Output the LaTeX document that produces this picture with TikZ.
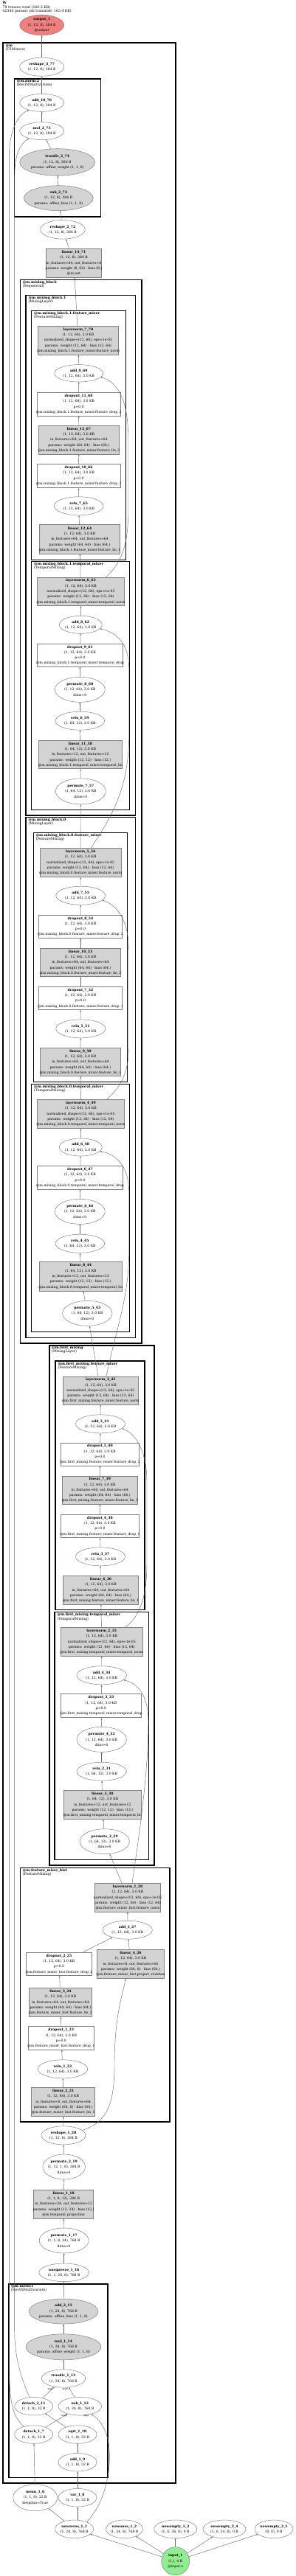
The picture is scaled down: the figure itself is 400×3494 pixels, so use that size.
\documentclass[tikz,border=0pt]{standalone}
\usepackage{fontspec}
\setmainfont{DejaVu Serif}
\usetikzlibrary{shapes.geometric,arrows.meta}
\definecolor{outc}{RGB}{240,128,128}
\definecolor{inc}{RGB}{144,238,144}
\definecolor{gf}{RGB}{211,211,211}
\definecolor{bd}{RGB}{128,128,128}
\definecolor{ec}{RGB}{105,105,105}
\newcommand\nfs{\fontsize{4.6}{7.3}\selectfont}
\newcommand\cfs{\fontsize{4.7}{5.2}\selectfont}
\tikzset{
 lbs/.style={align=center,font=\nfs,inner sep=0pt,outer sep=0pt},
 lb/.style={label={[lbs]center:{#1}}},
 el/.style={ellipse,draw=bd,fill=white,line width=0.5pt,inner sep=0pt},
 bx/.style={rectangle,draw=bd,fill=white,line width=0.5pt,inner sep=0pt},
 gr/.style={fill=gf},
 ed/.style={draw=ec,line width=0.45pt,-{Stealth[length=2.6pt,width=2pt]}},
 cl/.style={draw=black,line width=#1},
 cl/.default=1pt,
 clab/.style={anchor=north west,align=left,font=\cfs,inner sep=0pt},
 argl/.style={font=\fontsize{3.2}{3.5}\selectfont,inner sep=0pt},
}
\newcommand\En[7][]{\node[el,#1,minimum width=#5,minimum height=#6,lb={#7}] (#2) at (#3,#4) {};}
\newcommand\Bx[7][]{\node[bx,#1,minimum width=#5,minimum height=#6,lb={#7}] (#2) at (#3,#4) {};}
\begin{document}
\catcode`\_=12
\begin{tikzpicture}[x=1pt,y=-1pt]
\useasboundingbox (0,0) rectangle (400,3494);
\fill[white] (0,0) rectangle (400,3494);
% title
\node[clab] (title) at (3.5,2.2) {\textbf{W}\\79 tensors total (160.3 KB)\\42344 params (all trainable, 165.4 KB)};
% clusters
\draw[cl=2pt] (4,58.3) rectangle (237.7,3367.7);
\node[clab] (c_m) at (7.3,59.6) {\textbf{@m}\\(TSMixerx)};
\draw[cl=1.6pt] (19.3,106.7) rectangle (136.3,293.7);
\node[clab] (c_norm2) at (22.6,108) {\textbf{@m.norm:2}\\(RevINMultivariate)};
\draw[cl=1.6pt] (27.3,379.3) rectangle (191.7,1822);
\node[clab] (c_mb) at (30.6,380.6) {\textbf{@m.mixing_block}\\(Sequential)};
\draw[cl=1.3pt] (35,400.3) rectangle (183.3,1106);
\node[clab] (c_mb1) at (38.3,401.6) {\textbf{@m.mixing_block.1}\\(MixingLayer)};
\draw[cl=1pt] (42.7,421.3) rectangle (170.7,759);
\node[clab] (c_mb1f) at (46,422.6) {\textbf{@m.mixing_block.1.feature_mixer}\\(FeatureMixing)};
\draw[cl=1pt] (42.7,761.7) rectangle (175.7,1098.3);
\node[clab] (c_mb1t) at (46,763) {\textbf{@m.mixing_block.1.temporal_mixer}\\(TemporalMixing)};
\draw[cl=1.3pt] (35,1108.3) rectangle (183.3,1814.3);
\node[clab] (c_mb0) at (38.3,1109.6) {\textbf{@m.mixing_block.0}\\(MixingLayer)};
\draw[cl=1pt] (45,1129.3) rectangle (172.7,1467.3);
\node[clab] (c_mb0f) at (48.3,1130.6) {\textbf{@m.mixing_block.0.feature_mixer}\\(FeatureMixing)};
\draw[cl=1pt] (42.7,1470.7) rectangle (175.7,1806.3);
\node[clab] (c_mb0t) at (46,1472) {\textbf{@m.mixing_block.0.temporal_mixer}\\(TemporalMixing)};
\draw[cl=1.6pt] (66.7,1824.7) rectangle (208.7,2530);
\node[clab] (c_fm) at (70,1826) {\textbf{@m.first_mixing}\\(MixingLayer)};
\draw[cl=1.3pt] (75,1846) rectangle (196,2183.3);
\node[clab] (c_fmf) at (78.3,1847.3) {\textbf{@m.first_mixing.feature_mixer}\\(FeatureMixing)};
\draw[cl=1.3pt] (74,2186.7) rectangle (201.3,2522.7);
\node[clab] (c_fmt) at (77.3,2188) {\textbf{@m.first_mixing.temporal_mixer}\\(TemporalMixing)};
\draw[cl=1.6pt] (27.3,2533.3) rectangle (230,2878);
\node[clab] (c_fmh) at (30.6,2534.6) {\textbf{@m.feature_mixer_hist}\\(FeatureMixing)};
\draw[cl=1.6pt] (11.7,3097.7) rectangle (145.7,3360.3);
\node[clab] (c_norm1) at (15,3099) {\textbf{@m.norm:1}\\(RevINMultivariate)};
% nodes top
\En[fill=outc]{output_1}{56.7}{34}{60}{27.6}{\textbf{output_1}\\(1, 12, 8), 384 B\\@output}
\En{reshape_3_77}{56.7}{90.7}{60}{25}{\textbf{reshape_3_77}\\(1, 12, 8), 384 B}
\En{add_10_76}{56.7}{139.3}{60}{24}{\textbf{add_10_76}\\(1, 12, 8), 384 B}
\En{mul_2_75}{56.7}{177.7}{60}{24}{\textbf{mul_2_75}\\(1, 12, 8), 384 B}
\En[gr]{truediv_2_74}{77.7}{220}{102}{36.6}{\textbf{truediv_2_74}\\(1, 12, 8), 384 B\\params: affine_weight (1, 1, 8)}
\En[gr]{sub_2_73}{79.3}{268.7}{94}{34}{\textbf{sub_2_73}\\(1, 12, 8), 384 B\\params: affine_bias (1, 1, 8)}
\En{reshape_2_72}{85}{311.3}{60.6}{25.6}{\textbf{reshape_2_72}\\(1, 12, 8), 384 B}
\Bx[gr]{linear_14_71}{100}{356.65}{75.4}{39.3}{\textbf{linear_14_71}\\(1, 12, 8), 384 B\\in_features=64, out_features=8\\params: weight (8, 64) · bias (8,)\\@m.out}
% mixing_block.1 feature
\Bx[gr]{layernorm_7_70}{106}{461.65}{109.4}{39.3}{\textbf{layernorm_7_70}\\(1, 12, 64), 3.0 KB\\normalized_shape=(12, 64), eps=1e-05\\params: weight (12, 64) · bias (12, 64)\\@m.mixing_block.1.feature_mixer.feature_norm}
\En{add_9_69}{106.7}{506.3}{66}{23.4}{\textbf{add_9_69}\\(1, 12, 64), 3.0 KB}
\Bx{dropout_11_68}{106.65}{548.15}{112.7}{32.3}{\textbf{dropout_11_68}\\(1, 12, 64), 3.0 KB\\p=0.0\\@m.mixing_block.1.feature_mixer.feature_drop_2}
\Bx[gr]{linear_13_67}{106.8}{596.65}{109}{39.3}{\textbf{linear_13_67}\\(1, 12, 64), 3.0 KB\\in_features=64, out_features=64\\params: weight (64, 64) · bias (64,)\\@m.mixing_block.1.feature_mixer.feature_lin_2}
\Bx{dropout_10_66}{106.65}{645.35}{112.7}{32.7}{\textbf{dropout_10_66}\\(1, 12, 64), 3.0 KB\\p=0.0\\@m.mixing_block.1.feature_mixer.feature_drop_1}
\En{relu_7_65}{106.7}{686.3}{66.6}{25}{\textbf{relu_7_65}\\(1, 12, 64), 3.0 KB}
\Bx[gr]{linear_12_64}{108}{731.5}{109.4}{39.6}{\textbf{linear_12_64}\\(1, 12, 64), 3.0 KB\\in_features=64, out_features=64\\params: weight (64, 64) · bias (64,)\\@m.mixing_block.1.feature_mixer.feature_lin_1}
% mixing_block.1 temporal
\Bx[gr]{layernorm_6_63}{109.5}{802.35}{118.4}{38.7}{\textbf{layernorm_6_63}\\(1, 12, 64), 3.0 KB\\normalized_shape=(12, 64), eps=1e-05\\params: weight (12, 64) · bias (12, 64)\\@m.mixing_block.1.temporal_mixer.temporal_norm}
\En{add_8_62}{109.3}{847.3}{58}{24}{\textbf{add_8_62}\\(1, 12, 64), 3.0 KB}
\Bx{dropout_9_61}{108.5}{888.8}{116.4}{31}{\textbf{dropout_9_61}\\(1, 12, 64), 3.0 KB\\p=0.0\\@m.mixing_block.1.temporal_mixer.temporal_drop}
\En{permute_8_60}{108.3}{935.3}{68}{34}{\textbf{permute_8_60}\\(1, 12, 64), 3.0 KB\\dims=0}
\En{relu_6_59}{108.3}{977.7}{66.6}{25}{\textbf{relu_6_59}\\(1, 64, 12), 3.0 KB}
\Bx[gr]{linear_11_58}{108.8}{1023.5}{113}{38.4}{\textbf{linear_11_58}\\(1, 64, 12), 3.0 KB\\in_features=12, out_features=12\\params: weight (12, 12) · bias (12,)\\@m.mixing_block.1.temporal_mixer.temporal_lin}
\En{permute_7_57}{109.3}{1073.3}{68}{35}{\textbf{permute_7_57}\\(1, 64, 12), 3.0 KB\\dims=0}
% mixing_block.0 feature
\Bx[gr]{layernorm_5_56}{109.15}{1170}{109.7}{39.4}{\textbf{layernorm_5_56}\\(1, 12, 64), 3.0 KB\\normalized_shape=(12, 64), eps=1e-05\\params: weight (12, 64) · bias (12, 64)\\@m.mixing_block.0.feature_mixer.feature_norm}
\En{add_7_55}{109.3}{1214.7}{67}{25}{\textbf{add_7_55}\\(1, 12, 64), 3.0 KB}
\Bx{dropout_8_54}{109}{1256.8}{113.4}{31}{\textbf{dropout_8_54}\\(1, 12, 64), 3.0 KB\\p=0.0\\@m.mixing_block.0.feature_mixer.feature_drop_2}
\Bx[gr]{linear_10_53}{109}{1305.5}{109.4}{38.4}{\textbf{linear_10_53}\\(1, 12, 64), 3.0 KB\\in_features=64, out_features=64\\params: weight (64, 64) · bias (64,)\\@m.mixing_block.0.feature_mixer.feature_lin_2}
\Bx{dropout_7_52}{109}{1353.85}{113.4}{31.7}{\textbf{dropout_7_52}\\(1, 12, 64), 3.0 KB\\p=0.0\\@m.mixing_block.0.feature_mixer.feature_drop_1}
\En{relu_5_51}{109.3}{1395.3}{67}{25}{\textbf{relu_5_51}\\(1, 12, 64), 3.0 KB}
\Bx[gr]{linear_9_50}{109}{1440.5}{109.4}{38.4}{\textbf{linear_9_50}\\(1, 12, 64), 3.0 KB\\in_features=64, out_features=64\\params: weight (64, 64) · bias (64,)\\@m.mixing_block.0.feature_mixer.feature_lin_1}
% mixing_block.0 temporal
\Bx[gr]{layernorm_4_49}{109.5}{1510.85}{118.4}{39.7}{\textbf{layernorm_4_49}\\(1, 12, 64), 3.0 KB\\normalized_shape=(12, 64), eps=1e-05\\params: weight (12, 64) · bias (12, 64)\\@m.mixing_block.0.temporal_mixer.temporal_norm}
\En{add_6_48}{109.3}{1556}{58}{24}{\textbf{add_6_48}\\(1, 12, 64), 3.0 KB}
\Bx{dropout_6_47}{108.5}{1597.15}{116.4}{32.3}{\textbf{dropout_6_47}\\(1, 12, 64), 3.0 KB\\p=0.0\\@m.mixing_block.0.temporal_mixer.temporal_drop}
\En{permute_6_46}{108.3}{1643.3}{68}{34}{\textbf{permute_6_46}\\(1, 12, 64), 3.0 KB\\dims=0}
\En{relu_4_45}{108.3}{1686.7}{66.6}{25}{\textbf{relu_4_45}\\(1, 64, 12), 3.0 KB}
\Bx[gr]{linear_8_44}{109.3}{1731.35}{112}{39.3}{\textbf{linear_8_44}\\(1, 64, 12), 3.0 KB\\in_features=12, out_features=12\\params: weight (12, 12) · bias (12,)\\@m.mixing_block.0.temporal_mixer.temporal_lin}
\En{permute_5_43}{118.3}{1781.3}{67.4}{34}{\textbf{permute_5_43}\\(1, 64, 12), 3.0 KB\\dims=0}
% first_mixing feature
\Bx[gr]{layernorm_3_42}{136.35}{1886.15}{102.7}{38.3}{\textbf{layernorm_3_42}\\(1, 12, 64), 3.0 KB\\normalized_shape=(12, 64), eps=1e-05\\params: weight (12, 64) · bias (12, 64)\\@m.first_mixing.feature_mixer.feature_norm}
\En{add_5_41}{136}{1931.3}{67}{25}{\textbf{add_5_41}\\(1, 12, 64), 3.0 KB}
\Bx{dropout_5_40}{135.5}{1972.5}{106.4}{31}{\textbf{dropout_5_40}\\(1, 12, 64), 3.0 KB\\p=0.0\\@m.first_mixing.feature_mixer.feature_drop_2}
\Bx[gr]{linear_7_39}{135.3}{2021.15}{102}{38.3}{\textbf{linear_7_39}\\(1, 12, 64), 3.0 KB\\in_features=64, out_features=64\\params: weight (64, 64) · bias (64,)\\@m.first_mixing.feature_mixer.feature_lin_2}
\Bx{dropout_4_38}{135.5}{2069.85}{106.4}{31.7}{\textbf{dropout_4_38}\\(1, 12, 64), 3.0 KB\\p=0.0\\@m.first_mixing.feature_mixer.feature_drop_1}
\En{relu_3_37}{136}{2111.3}{67}{25}{\textbf{relu_3_37}\\(1, 12, 64), 3.0 KB}
\Bx[gr]{linear_6_36}{136.5}{2156.8}{102.4}{39}{\textbf{linear_6_36}\\(1, 12, 64), 3.0 KB\\in_features=64, out_features=64\\params: weight (64, 64) · bias (64,)\\@m.first_mixing.feature_mixer.feature_lin_1}
% first_mixing temporal
\Bx[gr]{layernorm_2_35}{137.8}{2226.8}{111}{39}{\textbf{layernorm_2_35}\\(1, 12, 64), 3.0 KB\\normalized_shape=(12, 64), eps=1e-05\\params: weight (12, 64) · bias (12, 64)\\@m.first_mixing.temporal_mixer.temporal_norm}
\En{add_4_34}{137.7}{2272.3}{67.6}{25}{\textbf{add_4_34}\\(1, 12, 64), 3.0 KB}
\Bx{dropout_3_33}{137}{2313.5}{109.4}{32.4}{\textbf{dropout_3_33}\\(1, 12, 64), 3.0 KB\\p=0.0\\@m.first_mixing.temporal_mixer.temporal_drop}
\En{permute_4_32}{137.7}{2359.3}{67.4}{34}{\textbf{permute_4_32}\\(1, 12, 64), 3.0 KB\\dims=0}
\En{relu_2_31}{137.7}{2402.7}{67.4}{25}{\textbf{relu_2_31}\\(1, 64, 12), 3.0 KB}
\Bx[gr]{linear_5_30}{138.85}{2448}{105.7}{39.4}{\textbf{linear_5_30}\\(1, 64, 12), 3.0 KB\\in_features=12, out_features=12\\params: weight (12, 12) · bias (12,)\\@m.first_mixing.temporal_mixer.temporal_lin}
\En{permute_3_29}{141.7}{2497.7}{67.4}{34}{\textbf{permute_3_29}\\(1, 64, 12), 3.0 KB\\dims=0}
% feature_mixer_hist
\Bx[gr]{layernorm_1_28}{173}{2573.8}{89.4}{39}{\textbf{layernorm_1_28}\\(1, 12, 64), 3.0 KB\\normalized_shape=(12, 64), eps=1e-05\\params: weight (12, 64) · bias (12, 64)\\@m.feature_mixer_hist.feature_norm}
\En{add_3_27}{172.7}{2617.7}{67.4}{25}{\textbf{add_3_27}\\(1, 12, 64), 3.0 KB}
\Bx{dropout_2_25}{80}{2663.85}{89.4}{31.7}{\textbf{dropout_2_25}\\(1, 12, 64), 3.0 KB\\p=0.0\\@m.feature_mixer_hist.feature_drop_2}
\Bx[gr]{linear_4_26}{177}{2663.85}{91.4}{39.7}{\textbf{linear_4_26}\\(1, 12, 64), 3.0 KB\\in_features=8, out_features=64\\params: weight (64, 8) · bias (64,)\\@m.feature_mixer_hist.project_residual}
\Bx[gr]{linear_3_24}{82}{2715.8}{85.4}{39}{\textbf{linear_3_24}\\(1, 12, 64), 3.0 KB\\in_features=64, out_features=64\\params: weight (64, 64) · bias (64,)\\@m.feature_mixer_hist.feature_lin_2}
\Bx{dropout_1_23}{82.8}{2764.5}{89}{31.6}{\textbf{dropout_1_23}\\(1, 12, 64), 3.0 KB\\p=0.0\\@m.feature_mixer_hist.feature_drop_1}
\En{relu_1_22}{85}{2806.3}{67.4}{25}{\textbf{relu_1_22}\\(1, 12, 64), 3.0 KB}
\Bx[gr]{linear_2_21}{85.7}{2851}{86}{39.4}{\textbf{linear_2_21}\\(1, 12, 64), 3.0 KB\\in_features=8, out_features=64\\params: weight (64, 8) · bias (64,)\\@m.feature_mixer_hist.feature_lin_1}
% lower chain
\En{reshape_1_20}{86}{2896.3}{60}{25}{\textbf{reshape_1_20}\\(1, 12, 8), 384 B}
\En{permute_2_19}{86.7}{2939}{57.6}{34}{\textbf{permute_2_19}\\(1, 12, 1, 8), 384 B\\dims=0}
\Bx[gr]{linear_1_18}{86.2}{2989.5}{81}{39}{\textbf{linear_1_18}\\(1, 1, 8, 12), 384 B\\in_features=24, out_features=12\\params: weight (12, 24) · bias (12,)\\@m.temporal_projection}
\En{permute_1_17}{86.7}{3039}{67}{34}{\textbf{permute_1_17}\\(1, 1, 8, 24), 768 B\\dims=0}
\En{unsqueeze_1_16}{86.7}{3082.3}{67.6}{24.6}{\textbf{unsqueeze_1_16}\\(1, 1, 24, 8), 768 B}
% norm:1
\En[gr]{add_2_15}{86}{3135}{94}{34}{\textbf{add_2_15}\\(1, 24, 8), 768 B\\params: affine_bias (1, 1, 8)}
\En[gr]{mul_1_14}{86}{3183.3}{102}{35}{\textbf{mul_1_14}\\(1, 24, 8), 768 B\\params: affine_weight (1, 1, 8)}
\En{truediv_1_13}{86}{3226}{59.4}{24.4}{\textbf{truediv_1_13}\\(1, 24, 8), 768 B}
\En{detach_2_11}{45.7}{3263.7}{52}{24.6}{\textbf{detach_2_11}\\(1, 1, 8), 32 B}
\En{sub_1_12}{108.3}{3263.7}{58.6}{24.6}{\textbf{sub_1_12}\\(1, 24, 8), 768 B}
\En{detach_1_7}{45.7}{3302}{52}{24.6}{\textbf{detach_1_7}\\(1, 1, 8), 32 B}
\En{sqrt_1_10}{105}{3302}{52}{24.6}{\textbf{sqrt_1_10}\\(1, 1, 8), 32 B}
\En{add_1_9}{105}{3339.7}{52}{24.6}{\textbf{add_1_9}\\(1, 1, 8), 32 B}
% bottom
\En{mean_1_6}{47.7}{3387.7}{60}{36}{\textbf{mean_1_6}\\(1, 1, 8), 32 B\\keepdim=True}
\En{var_1_8}{105}{3387.7}{52}{24.6}{\textbf{var_1_8}\\(1, 1, 8), 32 B}
\En{newzeros_1_1}{100.7}{3430.3}{52}{24.6}{\textbf{newzeros_1_1}\\(1, 24, 8), 768 B}
\En{newones_1_2}{168.5}{3430.3}{50}{24.6}{\textbf{newones_1_2}\\(1, 24, 8), 768 B}
\En{newempty_1_3}{237.7}{3430.3}{58}{24.6}{\textbf{newempty_1_3}\\(1, 0, 36, 8), 0 B}
\En{newempty_2_4}{304}{3430.3}{58}{24.6}{\textbf{newempty_2_4}\\(1, 0, 24, 8), 0 B}
\En{newempty_3_5}{371}{3430.3}{52}{24.6}{\textbf{newempty_3_5}\\(8, 0), 0 B}
\node[circle,draw=bd,fill=inc,line width=0.5pt,minimum size=38,inner sep=0pt,lb={\textbf{input_1}\\(1,), 4 B\\@input.x}] (input_1) at (237.7,3473.7) {};
% edges: main chain
\draw[ed] (reshape_3_77) -- (output_1);
\draw[ed] (add_10_76) -- (reshape_3_77);
\draw[ed] (mul_2_75) -- (add_10_76);
\draw[ed] (truediv_2_74) -- (mul_2_75);
\draw[ed] (sub_2_73) -- (truediv_2_74);
\draw[ed] (reshape_2_72) -- (sub_2_73);
\draw[ed] (linear_14_71) -- (reshape_2_72);
\draw[ed] (layernorm_7_70) -- (linear_14_71);
\draw[ed] (add_9_69) -- (layernorm_7_70);
\draw[ed] (dropout_11_68) -- (add_9_69);
\draw[ed] (linear_13_67) -- (dropout_11_68);
\draw[ed] (dropout_10_66) -- (linear_13_67);
\draw[ed] (relu_7_65) -- (dropout_10_66);
\draw[ed] (linear_12_64) -- (relu_7_65);
\draw[ed] (layernorm_6_63) -- (linear_12_64);
\draw[ed] (add_8_62) -- (layernorm_6_63);
\draw[ed] (dropout_9_61) -- (add_8_62);
\draw[ed] (permute_8_60) -- (dropout_9_61);
\draw[ed] (relu_6_59) -- (permute_8_60);
\draw[ed] (linear_11_58) -- (relu_6_59);
\draw[ed] (permute_7_57) -- (linear_11_58);
\draw[ed] (layernorm_5_56) -- (permute_7_57);
\draw[ed] (add_7_55) -- (layernorm_5_56);
\draw[ed] (dropout_8_54) -- (add_7_55);
\draw[ed] (linear_10_53) -- (dropout_8_54);
\draw[ed] (dropout_7_52) -- (linear_10_53);
\draw[ed] (relu_5_51) -- (dropout_7_52);
\draw[ed] (linear_9_50) -- (relu_5_51);
\draw[ed] (layernorm_4_49) -- (linear_9_50);
\draw[ed] (add_6_48) -- (layernorm_4_49);
\draw[ed] (dropout_6_47) -- (add_6_48);
\draw[ed] (permute_6_46) -- (dropout_6_47);
\draw[ed] (relu_4_45) -- (permute_6_46);
\draw[ed] (linear_8_44) -- (relu_4_45);
\draw[ed] (permute_5_43) -- (linear_8_44);
\draw[ed] (layernorm_3_42) -- (permute_5_43);
\draw[ed] (add_5_41) -- (layernorm_3_42);
\draw[ed] (dropout_5_40) -- (add_5_41);
\draw[ed] (linear_7_39) -- (dropout_5_40);
\draw[ed] (dropout_4_38) -- (linear_7_39);
\draw[ed] (relu_3_37) -- (dropout_4_38);
\draw[ed] (linear_6_36) -- (relu_3_37);
\draw[ed] (layernorm_2_35) -- (linear_6_36);
\draw[ed] (add_4_34) -- (layernorm_2_35);
\draw[ed] (dropout_3_33) -- (add_4_34);
\draw[ed] (permute_4_32) -- (dropout_3_33);
\draw[ed] (relu_2_31) -- (permute_4_32);
\draw[ed] (linear_5_30) -- (relu_2_31);
\draw[ed] (permute_3_29) -- (linear_5_30);
\draw[ed] (layernorm_1_28) -- (permute_3_29);
\draw[ed] (add_3_27) -- (layernorm_1_28);
\draw[ed] (dropout_2_25) -- (add_3_27);
\draw[ed] (linear_4_26) -- (add_3_27);
\draw[ed] (linear_3_24) -- (dropout_2_25);
\draw[ed] (dropout_1_23) -- (linear_3_24);
\draw[ed] (relu_1_22) -- (dropout_1_23);
\draw[ed] (linear_2_21) -- (relu_1_22);
\draw[ed] (reshape_1_20) -- (linear_2_21);
\draw[ed] (permute_2_19) -- (reshape_1_20);
\draw[ed] (linear_1_18) -- (permute_2_19);
\draw[ed] (permute_1_17) -- (linear_1_18);
\draw[ed] (unsqueeze_1_16) -- (permute_1_17);
\draw[ed] (add_2_15) -- (unsqueeze_1_16);
\draw[ed] (mul_1_14) -- (add_2_15);
\draw[ed] (truediv_1_13) -- (mul_1_14);
\draw[ed] (detach_2_11) -- (truediv_1_13);
\draw[ed] (sub_1_12) -- (truediv_1_13);
\draw[ed] (detach_1_7) -- (sub_1_12);
\draw[ed] (sqrt_1_10) -- (detach_2_11);
\draw[ed] (add_1_9) -- (sqrt_1_10);
\draw[ed] (var_1_8) -- (add_1_9);
\draw[ed] (mean_1_6) -- (detach_1_7);
\draw[ed] (newzeros_1_1) -- (mean_1_6);
\draw[ed] (newzeros_1_1.north -| var_1_8.south) -- (var_1_8);
\draw[ed] (input_1) -- (newzeros_1_1);
\draw[ed] (input_1) -- (newones_1_2);
\draw[ed] (input_1) -- (newempty_1_3);
\draw[ed] (input_1) -- (newempty_2_4);
\draw[ed] (input_1) -- (newempty_3_5);
% residual curves
\draw[ed] ([xshift=34pt]layernorm_6_63.north) .. controls (160,768) and (173.5,745) .. (173.5,700) -- (173.5,590) .. controls (173.5,545) and (160,518) .. (add_9_69.-10);
\draw[ed] ([xshift=14pt]layernorm_5_56.north) .. controls (150,1110) and (174.5,1070) .. (174.5,1000) -- (174.5,905) .. controls (174.5,875) and (160,858) .. (add_8_62.-12);
\draw[ed] ([xshift=35.5pt]layernorm_4_49.north) .. controls (163,1475) and (174.5,1455) .. (174.5,1420) -- (174.5,1290) .. controls (174.5,1250) and (160,1228) .. (add_7_55.-12);
\draw[ed] ([xshift=7.6pt]layernorm_3_42.north) .. controls (158,1800) and (174.5,1760) .. (174.5,1700) -- (174.5,1615) .. controls (174.5,1585) and (160,1566) .. (add_6_48.-12);
\draw[ed] ([xshift=32pt]layernorm_2_35.north) .. controls (190,2192) and (199,2165) .. (199,2120) -- (199,2010) .. controls (199,1970) and (185,1945) .. (add_5_41.-12);
\draw[ed] ([xshift=6pt]layernorm_1_28.north) .. controls (190,2480) and (201,2400) .. (201,2335) .. controls (201,2300) and (187,2283) .. (add_4_34.-12);
\draw[ed] (reshape_1_20.15) .. controls (145,2878) and (155,2855) .. (155,2800) .. controls (155,2730) and (168,2700) .. ([xshift=-7pt]linear_4_26.south);
\draw[ed] (newzeros_1_1.30) .. controls (145,3392) and (153,3340) .. (146,3308) .. controls (141,3290) and (134,3281) .. (sub_1_12.-35);
% long skip edges
\draw[ed] (detach_1_7.140) .. controls (15,3278) and (12.3,3250) .. (12.3,3200) -- (12.3,215) .. controls (12.3,175) and (25,155) .. (add_10_76.-150);
\draw[ed] (detach_2_11.115) .. controls (33,3235) and (19.7,3205) .. (19.7,3160) -- (19.7,240) .. controls (19.7,210) and (27,195) .. (mul_2_75.-150);
% arg labels
\node[argl] (arg_t1) at (68.3,3240.3) {arg1};
\node[argl] (arg_t0) at (88.3,3240.3) {arg0};
\node[argl] (arg_s1) at (87.3,3277) {arg1};
\node[argl] (arg_s0) at (116.7,3277) {arg0};
\end{tikzpicture}
\end{document}
